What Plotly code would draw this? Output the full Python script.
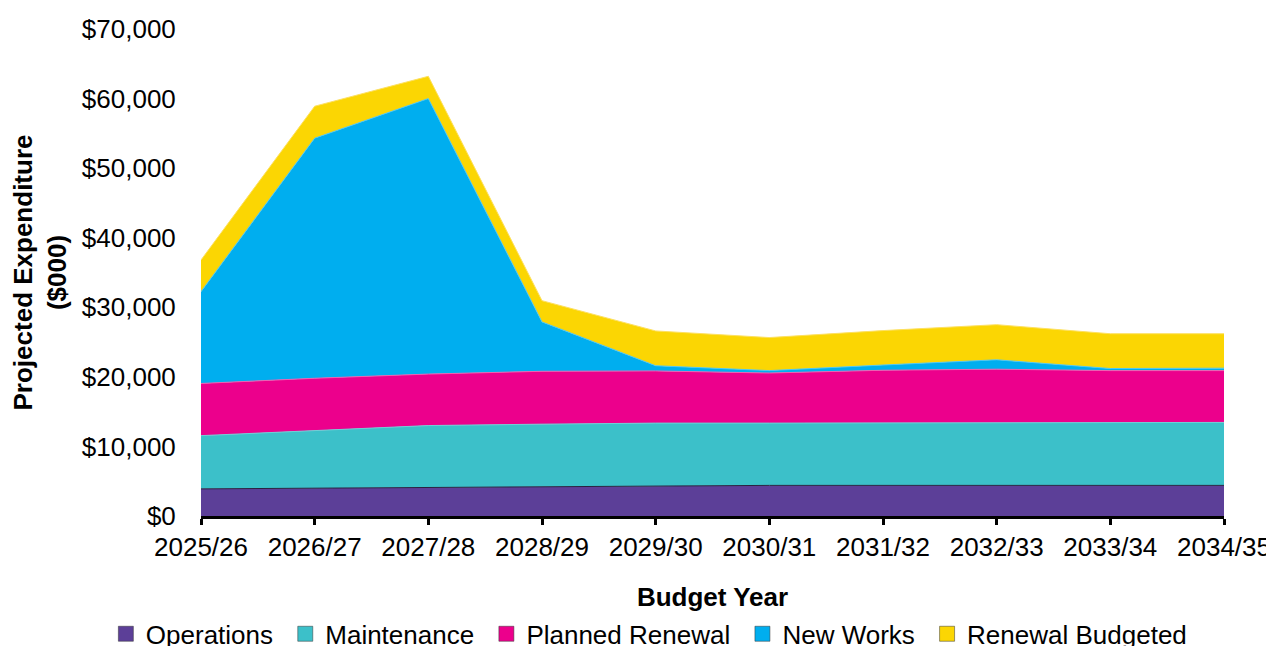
import plotly.graph_objects as go

years = ["2025/26", "2026/27", "2027/28", "2028/29", "2029/30",
         "2030/31", "2031/32", "2032/33", "2033/34", "2034/35"]
operations = [3900, 4000, 4200, 4300, 4400, 4400, 4400, 4400, 4400, 4400]
maintenance = [7650, 8300, 8800, 8900, 8950, 8950, 8950, 9000, 9000, 9050]
planned_renewal = [7500, 7500, 7400, 7600, 7500, 7200, 7600, 7700, 7500, 7450]
new_works = [13200, 34500, 39600, 7100, 750, 350, 750, 1350, 300, 350]
renewal_budgeted = [4550, 4600, 3200, 3050, 5000, 4750, 4950, 5050, 5000, 4950]

series = [
    ("Operations", operations, "#5c3f98", "#2a2040"),
    ("Maintenance", maintenance, "#3cc0c9", "#6fd0d6"),
    ("Planned Renewal", planned_renewal, "#ec008c", "#f060b0"),
    ("New Works", new_works, "#00aeef", "#50c6f2"),
    ("Renewal Budgeted", renewal_budgeted, "#fbd603", "#fde060"),
]

FONT = "Arial, Liberation Sans, sans-serif"
fig = go.Figure()
for name, vals, col, lcol in series:
    fig.add_trace(go.Scatter(
        x=years, y=vals, name=name, stackgroup="one", mode="lines",
        line=dict(color=lcol, width=1), fillcolor=col, showlegend=False,
        hoverinfo="x+y+name"))
# legend entries as square markers (a trailing no-break space widens the spacing)
for name, vals, col, lcol in series:
    fig.add_trace(go.Scatter(
        x=[None], y=[None], name=name + "\u00a0", mode="markers",
        marker=dict(symbol="square", size=15, color=col,
                    line=dict(color="#333333", width=0.5)),
        showlegend=True))

# page body has an 8px default margin, so the figure is sized to fit the window
fig.update_layout(
    width=1266, height=638,
    margin=dict(l=193, r=50, t=21, b=130, autoexpand=False),
    paper_bgcolor="white", plot_bgcolor="white",
    font=dict(family=FONT, size=26, color="black"),
    showlegend=True,
    legend=dict(orientation="h", x=-0.093, xanchor="left", y=-0.242, yanchor="middle",
                font=dict(size=26, family=FONT, color="black"),
                traceorder="normal",
                itemwidth=30, tracegroupgap=0, bgcolor="rgba(0,0,0,0)"),
    xaxis=dict(
        type="category", range=[0, 9], showgrid=False, zeroline=False,
        showline=True, linecolor="black", linewidth=3, automargin=False,
        ticks="outside", ticklen=6, tickwidth=3, tickcolor="black",
        tickfont=dict(size=26),
        title=dict(text="<b>Budget Year</b>", font=dict(size=26), standoff=27),
    ),
    yaxis=dict(
        range=[0, 70000], dtick=10000, tickprefix="$", tickformat=",d",
        showgrid=False, zeroline=False, showline=False, automargin=False,
        ticks="outside", ticklen=19, tickcolor="rgba(0,0,0,0)",
        tickfont=dict(size=26),
        title=dict(text="<b>Projected Expenditure<br>($000)</b>", font=dict(size=26), standoff=10),
    ),
)

fig.write_html("out.html")
